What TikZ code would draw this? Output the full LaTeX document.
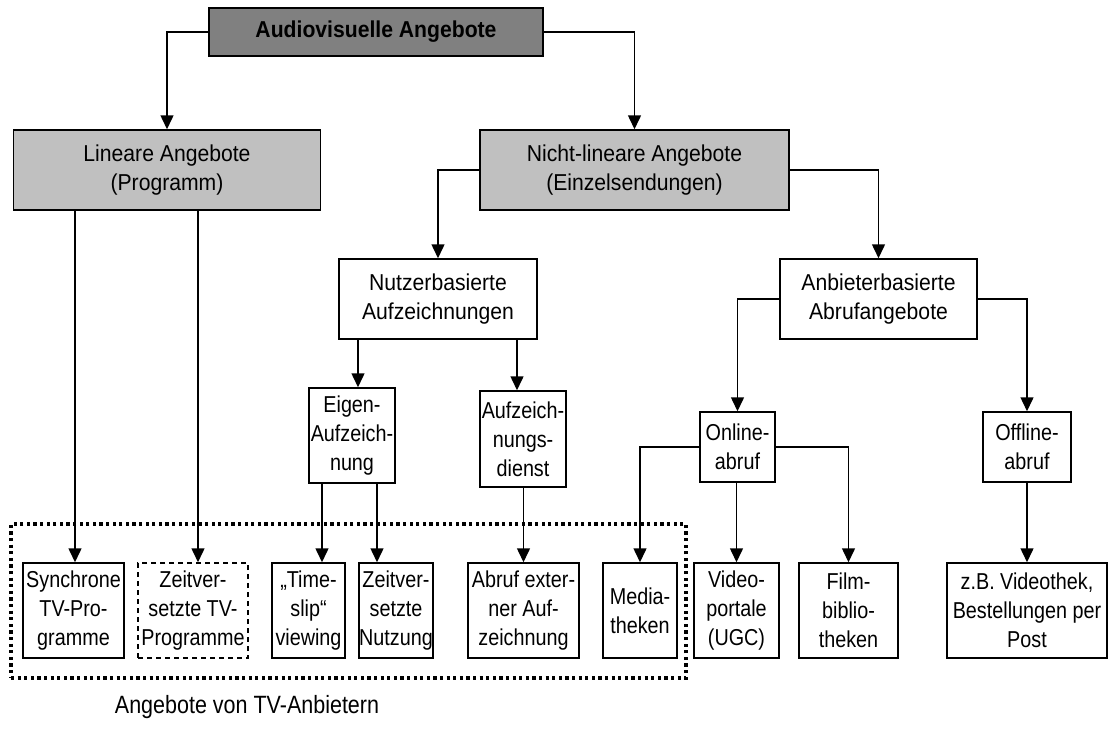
\documentclass[tikz,border=0pt]{standalone}
\usepackage{fontspec}
\setmainfont[FakeStretch=0.86]{Liberation Sans}
\newfontfamily\widefont[FakeStretch=0.92]{Liberation Sans}
\usetikzlibrary{arrows.meta,calc}
\definecolor{dgray}{HTML}{808080}
\definecolor{lgray}{HTML}{C0C0C0}
\begin{document}
\begin{tikzpicture}[x=1pt,y=-1pt,
  box/.style={draw, line width=1.5pt, inner sep=0pt, align=center,
              font=\fontsize{23}{29}\selectfont},
  bigbox/.style={box, font=\widefont\fontsize{23}{29}\selectfont},
  wh/.style 2 args={minimum width=#1pt, minimum height=#2pt},
  arr/.style={line width=1.5pt, -{Triangle[length=14pt,width=13pt]}},
  dashedbox/.style={dash pattern=on 5pt off 4pt},
  group/.style={draw, line width=3.2pt, dash pattern=on 3.2pt off 3.4pt, inner sep=0pt},
  lbl/.style={font=\fontsize{25}{29}\selectfont}
]
\useasboundingbox (0,0) rectangle (1108,744);

% level 0
\node[box, fill=dgray, wh={334}{48}, font=\widefont\fontsize{23}{26}\selectfont\bfseries] (top) at (376,32) {Audiovisuelle Angebote};
% level 1
\node[bigbox, fill=lgray, wh={307}{80}] (lin) at (167,170) {Lineare Angebote\\(Programm)};
\node[bigbox, fill=lgray, wh={309}{80}] (nlin) at (634.5,170) {Nicht-lineare Angebote\\(Einzelsendungen)};
% level 2
\node[bigbox, wh={198}{80}] (nutz) at (438,299) {Nutzerbasierte\\Aufzeichnungen};
\node[bigbox, wh={197}{80}] (anb) at (878.5,299) {Anbieterbasierte\\Abrufangebote};
% level 3
\node[box, wh={86}{95}] (eigen) at (352,435.5) {Eigen-\\Aufzeich-\\nung};
\node[box, wh={86}{96}] (aufz) at (523,439) {Aufzeich-\\nungs-\\dienst};
\node[box, wh={75}{70}] (online) at (737.5,447) {Online-\\abruf};
\node[box, wh={88}{70}] (offline) at (1027,447) {Offline-\\abruf};
% bottom row
\node[box, wh={101}{95}] (sync) at (73.5,610.5) {Synchrone\\TV-Pro-\\gramme};
\node[box, dashedbox, wh={110}{95}] (ztv) at (193,610.5) {Zeitver-\\setzte TV-\\Programme};
\node[box, wh={73}{95}] (time) at (308.5,610.5) {„Time-\\slip“\\viewing};
\node[box, wh={74}{95}] (znutz) at (396,610.5) {Zeitver-\\setzte\\Nutzung};
\node[box, wh={111}{95}] (abruf) at (523.5,610.5) {Abruf exter-\\ner Auf-\\zeichnung};
\node[box, wh={74}{95}] (media) at (640,610.5) {Media-\\theken};
\node[box, wh={85}{95}] (video) at (736.5,610.5) {Video-\\portale\\(UGC)};
\node[box, wh={99}{95}] (film) at (848.5,610.5) {Film-\\biblio-\\theken};
\node[box, wh={160}{95}] (zb) at (1027,610.5) {z.B. Videothek,\\Bestellungen per\\Post};

% group of TV providers
\node[group, wh={675}{154}] (tv) at (348.5,601) {};
\node[lbl] (tvlabel) at (247,707) {Angebote von TV-Anbietern};

% arrow end points shifted from box centres
\coordinate (csync) at ([xshift=1.5pt]sync.north);
\coordinate (cztv) at ([xshift=5pt]ztv.north);
\coordinate (ceigen) at ([xshift=6pt]eigen.north);
\coordinate (caufz) at ([xshift=-6pt]aufz.north);
\coordinate (ctime) at ([xshift=13.5pt]time.north);
\coordinate (cznutz) at ([xshift=-19pt]znutz.north);

% connectors
\draw[arr] (top.west) -| (lin.north);
\draw[arr] (top.east) -| (nlin.north);
\draw[arr] (nlin.west) -| (nutz.north);
\draw[arr] (nlin.east) -| (anb.north);
\draw[arr] (lin.south -| csync) -- (csync);
\draw[arr] (lin.south -| cztv) -- (cztv);
\draw[arr] (nutz.south -| ceigen) -- (ceigen);
\draw[arr] (nutz.south -| caufz) -- (caufz);
\draw[arr] (eigen.south -| ctime) -- (ctime);
\draw[arr] (eigen.south -| cznutz) -- (cznutz);
\draw[arr] (aufz.south -| abruf.north) -- (abruf.north);
\draw[arr] (anb.west) -| (online.north);
\draw[arr] (anb.east) -| (offline.north);
\draw[arr] (online.west) -| (media.north);
\draw[arr] (online.south -| video.north) -- (video.north);
\draw[arr] (online.east) -| (film.north);
\draw[arr] (offline.south) -- (zb.north);
\end{tikzpicture}
\end{document}
